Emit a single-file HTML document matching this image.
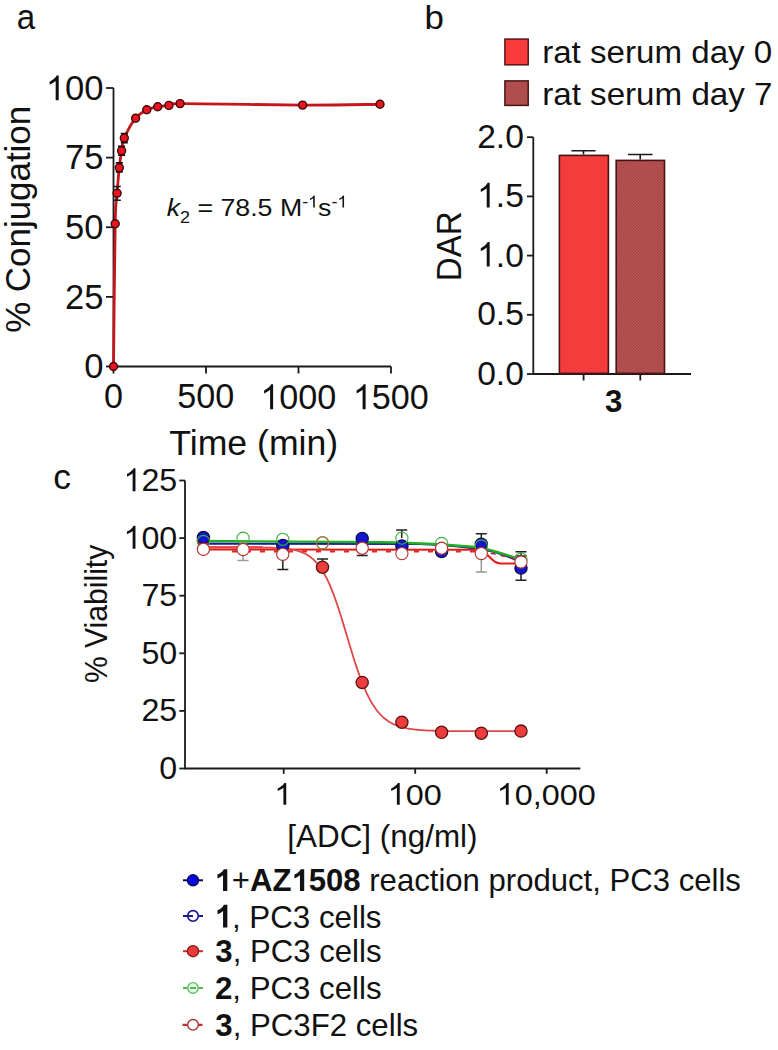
<!DOCTYPE html>
<html><head><meta charset="utf-8"><style>
html,body{margin:0;padding:0;background:#fff;}
svg{display:block;}
text{font-family:"Liberation Sans",sans-serif;}
tspan.one{fill-opacity:0;}
</style></head><body>
<svg width="778" height="1050" viewBox="0 0 778 1050">
<rect width="778" height="1050" fill="#fff"/>
<text transform="translate(16.76,28.87) scale(0.9218,0.9763)" font-size="36" fill="#111">a</text>
<text transform="translate(424.40,28.87) scale(1.0267,1.0000)" font-size="34" fill="#111">b</text>
<text transform="translate(53.36,489.37) scale(0.9848,0.9814)" font-size="36" fill="#111">c</text>
<text transform="translate(169.30,454.80) scale(1.0484,1.0257)" font-size="34" fill="#111">Time (min)</text>
<text transform="translate(29.60,332.87) scale(1.0176,1.0268) rotate(-90)" font-size="34" fill="#111">% Conjugation</text>
<text transform="translate(542.16,63.00) scale(1.0037,0.9583)" font-size="33" fill="#111">rat serum day 0</text>
<text transform="translate(542.15,104.50) scale(1.0052,0.9583)" font-size="33" fill="#111">rat serum day 7</text>
<text transform="translate(461.00,281.20) scale(1.0243,0.9757) rotate(-90)" font-size="34" fill="#111">DAR</text>
<text transform="translate(604.94,411.86) scale(0.9894,1.0075)" font-size="31.5" font-weight="bold" fill="#111">3</text>
<text transform="translate(287.27,847.00) scale(0.9977,1.0147)" font-size="31.5" fill="#111">[ADC] (ng/ml)</text>
<text transform="translate(107.40,683.06) scale(1.0029,0.9413) rotate(-90)" font-size="32" fill="#111">% Viability</text>
<text transform="translate(166.74,216.17) scale(1.0859,0.9951)" font-size="24.6" fill="#111"><tspan font-style="italic">k</tspan><tspan font-size="16.5" dy="6.5">2</tspan><tspan dy="-6.5"> = 78.5 M</tspan><tspan font-size="16.5" dy="-8.8">-<tspan class="one">1</tspan></tspan><tspan dy="8.8">s</tspan><tspan font-size="16.5" dy="-8.8">-<tspan class="one">1</tspan></tspan></text>
<text transform="translate(214.49,891.00) scale(1.0035,0.9851)" font-size="31" fill="#111"><tspan font-weight="bold"><tspan class="one">1</tspan></tspan>+<tspan font-weight="bold">AZ<tspan class="one">1</tspan>508</tspan> reaction product, PC3 cells</text>
<text transform="translate(214.47,927.50) scale(1.0103,1.0299)" font-size="31" fill="#111"><tspan font-weight="bold"><tspan class="one">1</tspan></tspan>, PC3 cells</text>
<text transform="translate(215.33,961.80) scale(1.0051,0.9985)" font-size="31" fill="#111"><tspan font-weight="bold">3</tspan>, PC3 cells</text>
<text transform="translate(214.99,998.50) scale(1.0071,1.0075)" font-size="31" fill="#111"><tspan font-weight="bold">2</tspan>, PC3 cells</text>
<text transform="translate(215.33,1035.50) scale(1.0067,0.9851)" font-size="31" fill="#111"><tspan font-weight="bold">3</tspan>, PC3F2 cells</text>
<path d="M113.5 88.00 V366.5 H391.00" fill="none" stroke="#1a1a1a" stroke-width="1.8"/>
<line x1="106" y1="366.50" x2="113.5" y2="366.50" stroke="#1a1a1a" stroke-width="1.8"/>
<line x1="106" y1="296.88" x2="113.5" y2="296.88" stroke="#1a1a1a" stroke-width="1.8"/>
<line x1="106" y1="227.25" x2="113.5" y2="227.25" stroke="#1a1a1a" stroke-width="1.8"/>
<line x1="106" y1="157.62" x2="113.5" y2="157.62" stroke="#1a1a1a" stroke-width="1.8"/>
<line x1="106" y1="88.00" x2="113.5" y2="88.00" stroke="#1a1a1a" stroke-width="1.8"/>
<line x1="113.50" y1="366.5" x2="113.50" y2="373.5" stroke="#1a1a1a" stroke-width="1.8"/>
<line x1="206.00" y1="366.5" x2="206.00" y2="373.5" stroke="#1a1a1a" stroke-width="1.8"/>
<line x1="298.50" y1="366.5" x2="298.50" y2="373.5" stroke="#1a1a1a" stroke-width="1.8"/>
<line x1="391.00" y1="366.5" x2="391.00" y2="373.5" stroke="#1a1a1a" stroke-width="1.8"/>
<text transform="translate(84.32,378.17) scale(1.0032,0.9947)" font-size="34.5" fill="#111">0</text>
<text transform="translate(65.07,308.55) scale(1.0032,0.9947)" font-size="34.5" fill="#111">25</text>
<text transform="translate(65.07,238.92) scale(1.0032,0.9947)" font-size="34.5" fill="#111">50</text>
<text transform="translate(65.07,169.13) scale(1.0032,0.9947)" font-size="34.5" fill="#111">75</text>
<text transform="translate(45.82,100.17) scale(1.0032,0.9947)" font-size="34.5" fill="#111"><tspan class="one">1</tspan>00</text>
<text transform="translate(103.88,408.16) scale(0.9907,1.0066)" font-size="34.5" fill="#111">0</text>
<text transform="translate(177.37,408.16) scale(0.9907,1.0066)" font-size="34.5" fill="#111">500</text>
<text transform="translate(260.37,409.16) scale(0.9907,1.0066)" font-size="34.5" fill="#111"><tspan class="one">1</tspan>000</text>
<text transform="translate(352.87,409.16) scale(0.9907,1.0066)" font-size="34.5" fill="#111"><tspan class="one">1</tspan>500</text>
<path d="M113.50 366.50 C113.78 342.72 114.60 252.67 115.20 223.80 C115.80 194.93 116.42 202.65 117.10 193.30 C117.78 183.95 118.55 174.80 119.30 167.70 C120.05 160.60 120.77 155.63 121.60 150.70 C122.43 145.77 121.97 143.52 124.30 138.10 C126.63 132.68 131.85 122.92 135.60 118.20 C139.35 113.48 143.12 111.72 146.80 109.80 C150.48 107.88 154.02 107.43 157.70 106.70 C161.38 105.97 165.17 105.92 168.90 105.40 C172.63 104.88 157.82 103.65 180.10 103.60 C202.38 103.55 269.28 104.98 302.60 105.10 C335.92 105.22 367.10 104.43 380.00 104.30" fill="none" stroke="#c4161c" stroke-width="2.8"/>
<path d="M117.1 186.5 V200.2 M113.4 186.5 H120.8 M113.4 200.2 H120.8" stroke="#1a1a1a" stroke-width="1.4"/>
<path d="M120.8 133.7 H127.8 M120.8 142.5 H127.8 M118.1 146.3 H125.1 M118.1 155.1 H125.1 M115.8 162.9 H122.8 M115.8 171.9 H122.8" stroke="#1a0808" stroke-width="1.8"/>
<circle cx="113.5" cy="366.5" r="4.0" fill="#ea1420" stroke="#3a0808" stroke-width="1.4"/>
<circle cx="115.2" cy="223.8" r="4.0" fill="#ea1420" stroke="#3a0808" stroke-width="1.4"/>
<circle cx="117.1" cy="193.3" r="4.0" fill="#ea1420" stroke="#3a0808" stroke-width="1.4"/>
<circle cx="119.3" cy="167.7" r="4.0" fill="#ea1420" stroke="#3a0808" stroke-width="1.4"/>
<circle cx="121.6" cy="150.7" r="4.0" fill="#ea1420" stroke="#3a0808" stroke-width="1.4"/>
<circle cx="124.3" cy="138.1" r="4.0" fill="#ea1420" stroke="#3a0808" stroke-width="1.4"/>
<circle cx="135.6" cy="118.2" r="4.0" fill="#ea1420" stroke="#3a0808" stroke-width="1.4"/>
<circle cx="146.8" cy="109.8" r="4.0" fill="#ea1420" stroke="#3a0808" stroke-width="1.4"/>
<circle cx="157.7" cy="106.7" r="4.0" fill="#ea1420" stroke="#3a0808" stroke-width="1.4"/>
<circle cx="168.9" cy="105.4" r="4.0" fill="#ea1420" stroke="#3a0808" stroke-width="1.4"/>
<circle cx="180.1" cy="103.6" r="4.0" fill="#ea1420" stroke="#3a0808" stroke-width="1.4"/>
<circle cx="302.6" cy="105.1" r="4.0" fill="#ea1420" stroke="#3a0808" stroke-width="1.4"/>
<circle cx="380" cy="104.3" r="4.0" fill="#ea1420" stroke="#3a0808" stroke-width="1.4"/>
<defs><pattern id="hatch" width="3" height="3" patternUnits="userSpaceOnUse"><rect width="3" height="3" fill="#bc5656"/><rect width="1.5" height="1.5" fill="#a44444"/><rect x="1.5" y="1.5" width="1.5" height="1.5" fill="#a44444"/></pattern></defs>
<rect x="504.9" y="39.1" width="23.3" height="25.7" fill="#f83a3a" stroke="#5a1414" stroke-width="1.5"/>
<rect x="504.9" y="80.9" width="23.3" height="24.5" fill="url(#hatch)" stroke="#4a1414" stroke-width="1.5"/>
<path d="M533.3 137.20 V374.0 H691" fill="none" stroke="#1a1a1a" stroke-width="1.8"/>
<line x1="527" y1="374.00" x2="533.3" y2="374.00" stroke="#1a1a1a" stroke-width="1.8"/>
<line x1="527" y1="314.80" x2="533.3" y2="314.80" stroke="#1a1a1a" stroke-width="1.8"/>
<line x1="527" y1="255.60" x2="533.3" y2="255.60" stroke="#1a1a1a" stroke-width="1.8"/>
<line x1="527" y1="196.40" x2="533.3" y2="196.40" stroke="#1a1a1a" stroke-width="1.8"/>
<line x1="527" y1="137.20" x2="533.3" y2="137.20" stroke="#1a1a1a" stroke-width="1.8"/>
<text transform="translate(477.15,384.67) scale(0.9880,1.0042)" font-size="34" fill="#111">0.0</text>
<text transform="translate(477.15,325.47) scale(0.9880,1.0042)" font-size="34" fill="#111">0.5</text>
<text transform="translate(477.15,266.60) scale(0.9880,1.0042)" font-size="34" fill="#111"><tspan class="one">1</tspan>.0</text>
<text transform="translate(477.15,207.40) scale(0.9880,1.0042)" font-size="34" fill="#111"><tspan class="one">1</tspan>.5</text>
<text transform="translate(477.15,147.87) scale(0.9880,1.0042)" font-size="34" fill="#111">2.0</text>
<line x1="583.6" y1="374.0" x2="583.6" y2="380.5" stroke="#1a1a1a" stroke-width="1.8"/>
<line x1="640.3" y1="374.0" x2="640.3" y2="380.5" stroke="#1a1a1a" stroke-width="1.8"/>
<rect x="559.4" y="155.4" width="49" height="218" fill="#f43c3c" stroke="#4a1212" stroke-width="1.6"/>
<rect x="616.2" y="160.4" width="48.3" height="213" fill="url(#hatch)" stroke="#4a1212" stroke-width="1.6"/>
<path d="M583.5 154.6 V150.8 M571.4 150.8 H595.6 M640.2 159.6 V154.5 M627.9 154.5 H652.5" stroke="#1a1a1a" stroke-width="1.6"/>
<path d="M185.0 480.50 V768.5 H580.3" fill="none" stroke="#1a1a1a" stroke-width="1.8"/>
<line x1="179.3" y1="768.50" x2="185.0" y2="768.50" stroke="#1a1a1a" stroke-width="1.8"/>
<line x1="179.3" y1="710.90" x2="185.0" y2="710.90" stroke="#1a1a1a" stroke-width="1.8"/>
<line x1="179.3" y1="653.30" x2="185.0" y2="653.30" stroke="#1a1a1a" stroke-width="1.8"/>
<line x1="179.3" y1="595.70" x2="185.0" y2="595.70" stroke="#1a1a1a" stroke-width="1.8"/>
<line x1="179.3" y1="538.10" x2="185.0" y2="538.10" stroke="#1a1a1a" stroke-width="1.8"/>
<line x1="179.3" y1="480.50" x2="185.0" y2="480.50" stroke="#1a1a1a" stroke-width="1.8"/>
<line x1="283.70" y1="768.5" x2="283.70" y2="773.8" stroke="#1a1a1a" stroke-width="1.8"/>
<line x1="415.20" y1="768.5" x2="415.20" y2="773.8" stroke="#1a1a1a" stroke-width="1.8"/>
<line x1="546.70" y1="768.5" x2="546.70" y2="773.8" stroke="#1a1a1a" stroke-width="1.8"/>
<text transform="translate(159.30,778.85) scale(0.9912,0.9803)" font-size="32.5" fill="#111">0</text>
<text transform="translate(141.38,721.25) scale(0.9912,0.9803)" font-size="32.5" fill="#111">25</text>
<text transform="translate(141.38,663.65) scale(0.9912,0.9803)" font-size="32.5" fill="#111">50</text>
<text transform="translate(141.38,605.88) scale(0.9912,0.9803)" font-size="32.5" fill="#111">75</text>
<text transform="translate(123.47,548.77) scale(0.9912,0.9803)" font-size="32.5" fill="#111"><tspan class="one">1</tspan>00</text>
<text transform="translate(123.47,491.17) scale(0.9912,0.9803)" font-size="32.5" fill="#111"><tspan class="one">1</tspan>25</text>
<text transform="translate(274.17,804.69) scale(0.9973,0.9296)" font-size="32.5" fill="#111"><tspan class="one">1</tspan></text>
<text transform="translate(387.64,804.69) scale(0.9973,0.9296)" font-size="32.5" fill="#111"><tspan class="one">1</tspan>00</text>
<text transform="translate(496.61,804.69) scale(0.9973,0.9296)" font-size="32.5" fill="#111"><tspan class="one">1</tspan>0,000</text>
<path d="M203.4 543.7 L420 544 C450 545 470 547 490 551 C500 553 510 557 521 562" fill="none" stroke="#1a1a9a" stroke-width="2.2"/>
<path d="M203.4 541.0 L380 542.2 C420 543 450 544.5 475 547 C490 549 505 554 521 560" fill="none" stroke="#22b022" stroke-width="2.4"/>
<path d="M203.4 547.3 L262 547.3" fill="none" stroke="#ff2a2a" stroke-width="2"/>
<path d="M203.4 549.6 L478 549.7 C488 550 490 563 500 563.4 L521 563.4" fill="none" stroke="#e01c1c" stroke-width="2"/>
<path d="M481 551 L521 560" fill="none" stroke="#b03030" stroke-width="1.6" stroke-dasharray="5 5"/>
<path d="M232 551.4 L480 551.4" fill="none" stroke="#e02828" stroke-width="2.2" stroke-dasharray="5 9"/>
<path d="M203.4 547.3 L260.0 547.46 L261.0 547.48 L262.0 547.49 L263.0 547.51 L264.0 547.53 L265.0 547.55 L266.0 547.57 L267.0 547.59 L268.0 547.62 L269.0 547.64 L270.0 547.67 L271.0 547.71 L272.0 547.74 L273.0 547.78 L274.0 547.82 L275.0 547.87 L276.0 547.91 L277.0 547.97 L278.0 548.02 L279.0 548.09 L280.0 548.15 L281.0 548.23 L282.0 548.31 L283.0 548.39 L284.0 548.49 L285.0 548.59 L286.0 548.70 L287.0 548.82 L288.0 548.95 L289.0 549.09 L290.0 549.24 L291.0 549.40 L292.0 549.58 L293.0 549.77 L294.0 549.98 L295.0 550.21 L296.0 550.45 L297.0 550.72 L298.0 551.00 L299.0 551.31 L300.0 551.64 L301.0 552.00 L302.0 552.39 L303.0 552.81 L304.0 553.26 L305.0 553.74 L306.0 554.27 L307.0 554.83 L308.0 555.43 L309.0 556.08 L310.0 556.78 L311.0 557.53 L312.0 558.33 L313.0 559.19 L314.0 560.11 L315.0 561.09 L316.0 562.14 L317.0 563.26 L318.0 564.45 L319.0 565.72 L320.0 567.07 L321.0 568.50 L322.0 570.02 L323.0 571.62 L324.0 573.32 L325.0 575.10 L326.0 576.99 L327.0 578.96 L328.0 581.04 L329.0 583.21 L330.0 585.48 L331.0 587.85 L332.0 590.31 L333.0 592.87 L334.0 595.52 L335.0 598.26 L336.0 601.09 L337.0 604.00 L338.0 606.98 L339.0 610.03 L340.0 613.15 L341.0 616.33 L342.0 619.56 L343.0 622.83 L344.0 626.13 L345.0 629.46 L346.0 632.81 L347.0 636.16 L348.0 639.52 L349.0 642.86 L350.0 646.19 L351.0 649.50 L352.0 652.77 L353.0 655.99 L354.0 659.17 L355.0 662.30 L356.0 665.36 L357.0 668.35 L358.0 671.28 L359.0 674.12 L360.0 676.89 L361.0 679.57 L362.0 682.17 L363.0 684.67 L364.0 687.09 L365.0 689.42 L366.0 691.65 L367.0 693.80 L368.0 695.86 L369.0 697.82 L370.0 699.70 L371.0 701.49 L372.0 703.20 L373.0 704.82 L374.0 706.37 L375.0 707.83 L376.0 709.22 L377.0 710.54 L378.0 711.79 L379.0 712.97 L380.0 714.08 L381.0 715.13 L382.0 716.13 L383.0 717.06 L384.0 717.95 L385.0 718.78 L386.0 719.56 L387.0 720.30 L388.0 720.99 L389.0 721.64 L390.0 722.25 L391.0 722.82 L392.0 723.36 L393.0 723.87 L394.0 724.34 L395.0 724.78 L396.0 725.20 L397.0 725.59 L398.0 725.95 L399.0 726.30 L400.0 726.62 L401.0 726.92 L402.0 727.20 L403.0 727.46 L404.0 727.71 L405.0 727.94 L406.0 728.15 L407.0 728.35 L408.0 728.54 L409.0 728.72 L410.0 728.88 L411.0 729.03 L412.0 729.18 L413.0 729.31 L414.0 729.44 L415.0 729.55 L416.0 729.66 L417.0 729.76 L418.0 729.86 L419.0 729.95 L420.0 730.03 L421.0 730.11 L422.0 730.18 L423.0 730.25 L424.0 730.31 L425.0 730.37 L426.0 730.43 L427.0 730.48 L428.0 730.53 L429.0 730.57 L430.0 730.61 L431.0 730.65 L432.0 730.69 L433.0 730.72 L434.0 730.76 L435.0 730.78 L436.0 730.81 L437.0 730.84 L438.0 730.86 L439.0 730.88 L440.0 730.91 L441.0 730.93 L442.0 730.94 L443.0 730.96 L444.0 730.98 L445.0 730.99 L446.0 731.01 L447.0 731.02 L448.0 731.03 L449.0 731.04 L450.0 731.05 L451.0 731.06 L452.0 731.07 L453.0 731.08 L454.0 731.09 L455.0 731.10 L456.0 731.10 L457.0 731.11 L458.0 731.12 L459.0 731.12 L460.0 731.13 L461.0 731.13 L462.0 731.14 L463.0 731.14 L464.0 731.14 L465.0 731.15 L466.0 731.15 L467.0 731.15 L468.0 731.16 L469.0 731.16 L470.0 731.16 L471.0 731.17 L472.0 731.17 L473.0 731.17 L474.0 731.17 L475.0 731.17 L476.0 731.18 L477.0 731.18 L478.0 731.18 L479.0 731.18 L480.0 731.18 L481.0 731.18 L482.0 731.18 L483.0 731.18 L484.0 731.19 L485.0 731.19 L486.0 731.19 L487.0 731.19 L488.0 731.19 L489.0 731.19 L490.0 731.19 L491.0 731.19 L492.0 731.19 L493.0 731.19 L494.0 731.19 L495.0 731.19 L496.0 731.19 L497.0 731.19 L498.0 731.19 L499.0 731.20 L500.0 731.20 L501.0 731.20 L502.0 731.20 L503.0 731.20 L504.0 731.20 L505.0 731.20 L506.0 731.20 L507.0 731.20 L508.0 731.20 L509.0 731.20 L510.0 731.20 L511.0 731.20 L512.0 731.20 L513.0 731.20 L514.0 731.20 L515.0 731.20 L516.0 731.20 L517.0 731.20 L518.0 731.20 L519.0 731.20 L520.0 731.20 L521.0 731.20" fill="none" stroke="#e04848" stroke-width="1.8"/>
<path d="M282.8 556 V569.4 M277.3 569.4 H288.3" stroke="#222" stroke-width="1.5"/>
<path d="M322.5 567 V559.1 M317.0 559.1 H328.0" stroke="#222" stroke-width="1.5"/>
<path d="M362.2 548 V555.4 M356.7 555.4 H367.7" stroke="#222" stroke-width="1.5"/>
<path d="M401.7 538 V530.1 M396.2 530.1 H407.2" stroke="#222" stroke-width="1.5"/>
<path d="M481.3 544 V533.8 M475.8 533.8 H486.8" stroke="#222" stroke-width="1.5"/>
<path d="M481.3 548 V572 M475.8 572 H486.8" stroke="#999" stroke-width="1.5"/>
<path d="M521 562 V551.7 M515.5 551.7 H526.5" stroke="#222" stroke-width="1.5"/>
<path d="M521 562 V555.9 M515.5 555.9 H526.5" stroke="#222" stroke-width="1.5"/>
<path d="M521 562 V580.2 M515.5 580.2 H526.5" stroke="#222" stroke-width="1.5"/>
<path d="M243.1 549 V560.5 M237.6 560.5 H248.6" stroke="#999" stroke-width="1.5"/>
<circle cx="203.4" cy="540.5" r="6.1" fill="#ec3c3c" stroke="#5a1212" stroke-width="1.3"/>
<circle cx="203.4" cy="537.5" r="6.1" fill="#1414d0" stroke="#0c0c50" stroke-width="1.3"/>
<circle cx="282.8" cy="545.5" r="6.1" fill="#1414d0" stroke="#0c0c50" stroke-width="1.3"/>
<circle cx="362.2" cy="538.5" r="6.1" fill="#1414d0" stroke="#0c0c50" stroke-width="1.3"/>
<circle cx="401.9" cy="545.9" r="6.1" fill="#1414d0" stroke="#0c0c50" stroke-width="1.3"/>
<circle cx="441.6" cy="551.5" r="6.1" fill="#1414d0" stroke="#0c0c50" stroke-width="1.3"/>
<circle cx="481.3" cy="544.2" r="6.1" fill="#1414d0" stroke="#0c0c50" stroke-width="1.3"/>
<circle cx="521.0" cy="568" r="6.1" fill="#1414d0" stroke="#0c0c50" stroke-width="1.3"/>
<circle cx="203.4" cy="541.5" r="6.1" fill="none" stroke="#40b040" stroke-width="1.1"/>
<circle cx="243.1" cy="538.2" r="6.1" fill="none" stroke="#40b040" stroke-width="1.1"/>
<circle cx="282.8" cy="539.3" r="6.1" fill="none" stroke="#40b040" stroke-width="1.1"/>
<circle cx="322.5" cy="542.8" r="6.1" fill="none" stroke="#40b040" stroke-width="1.1"/>
<circle cx="401.9" cy="538.1" r="6.1" fill="none" stroke="#40b040" stroke-width="1.1"/>
<circle cx="441.6" cy="543.5" r="6.1" fill="none" stroke="#40b040" stroke-width="1.1"/>
<circle cx="481.3" cy="546" r="6.1" fill="none" stroke="#40b040" stroke-width="1.1"/>
<circle cx="521.0" cy="559" r="6.1" fill="none" stroke="#40b040" stroke-width="1.1"/>
<circle cx="322.5" cy="567.2" r="6.1" fill="#ec3c3c" stroke="#5a1212" stroke-width="1.3"/>
<circle cx="362.2" cy="682.4" r="6.1" fill="#ec3c3c" stroke="#5a1212" stroke-width="1.3"/>
<circle cx="401.9" cy="722.2" r="6.1" fill="#ec3c3c" stroke="#5a1212" stroke-width="1.3"/>
<circle cx="441.6" cy="732.3" r="6.1" fill="#ec3c3c" stroke="#5a1212" stroke-width="1.3"/>
<circle cx="481.3" cy="733.2" r="6.1" fill="#ec3c3c" stroke="#5a1212" stroke-width="1.3"/>
<circle cx="521.0" cy="731.1" r="6.1" fill="#ec3c3c" stroke="#5a1212" stroke-width="1.3"/>
<circle cx="203.4" cy="549.3" r="6.1" fill="#ffffff" stroke="#b83030" stroke-width="1.1"/>
<circle cx="243.1" cy="549.5" r="6.1" fill="#ffffff" stroke="#b83030" stroke-width="1.1"/>
<circle cx="282.8" cy="554.3" r="6.1" fill="#ffffff" stroke="#b83030" stroke-width="1.1"/>
<circle cx="362.2" cy="548.2" r="6.1" fill="#ffffff" stroke="#b83030" stroke-width="1.1"/>
<circle cx="401.9" cy="553.6" r="6.1" fill="#ffffff" stroke="#b83030" stroke-width="1.1"/>
<circle cx="441.6" cy="548.2" r="6.1" fill="#ffffff" stroke="#b83030" stroke-width="1.1"/>
<circle cx="481.3" cy="553.5" r="6.1" fill="#ffffff" stroke="#b83030" stroke-width="1.1"/>
<circle cx="521.0" cy="562" r="6.1" fill="#ffffff" stroke="#b83030" stroke-width="1.1"/>
<circle cx="322.5" cy="542.8" r="6.1" fill="none" stroke="#b07840" stroke-width="1.3"/>
<path d="M183 880.3 H203" stroke="#0a0a60" stroke-width="2"/>
<circle cx="193" cy="880.3" r="5.6" fill="#0606e0" stroke="#0a0a40" stroke-width="1.2"/>
<path d="M183 915.9 H193 M198.5 915.9 H203" stroke="#1a1a8a" stroke-width="2"/>
<circle cx="193" cy="915.9" r="5.3" fill="none" stroke="#1a1a8a" stroke-width="1.6"/>
<path d="M183 951.2 H203" stroke="#c83030" stroke-width="2"/>
<circle cx="193" cy="951.2" r="5.6" fill="#e83a3a" stroke="#7a1a1a" stroke-width="1.2"/>
<circle cx="193" cy="987.9" r="5.3" fill="#e4f8e4" stroke="#60c060" stroke-width="1.4"/>
<path d="M183 987.9 H187 M190 987.9 H196 M199 987.9 H203" stroke="#50b850" stroke-width="2"/>
<path d="M182.5 1024.8 H188 M198 1024.8 H202.5" stroke="#c03030" stroke-width="2.2"/>
<circle cx="193" cy="1024.8" r="5.3" fill="#fff" stroke="#b03030" stroke-width="1.4"/>
<path transform="matrix(1.08590,0.00000,0.00000,0.99510,166.740,216.170) translate(130.177,-8.800) scale(0.008057,-0.008057)" d="M763 0 L583 0 L583 1147 Q518 1085 412 1023 Q306 961 222 930 L222 1104 Q373 1175 486 1276 Q599 1377 646 1472 L763 1472 Z" fill="#111"/>
<path transform="matrix(1.08590,0.00000,0.00000,0.99510,166.740,216.170) translate(157.152,-8.800) scale(0.008057,-0.008057)" d="M763 0 L583 0 L583 1147 Q518 1085 412 1023 Q306 961 222 930 L222 1104 Q373 1175 486 1276 Q599 1377 646 1472 L763 1472 Z" fill="#111"/>
<path transform="matrix(1.00350,0.00000,0.00000,0.98510,214.490,891.000) translate(0.000,0.000) scale(0.015137,-0.015137)" d="M843 0 L562 0 L562 1059 Q408 915 199 846 L199 1101 Q309 1137 437 1236 Q565 1335 613 1466 L843 1466 Z" fill="#111"/>
<path transform="matrix(1.00350,0.00000,0.00000,0.98510,214.490,891.000) translate(76.652,0.000) scale(0.015137,-0.015137)" d="M843 0 L562 0 L562 1059 Q408 915 199 846 L199 1101 Q309 1137 437 1236 Q565 1335 613 1466 L843 1466 Z" fill="#111"/>
<path transform="matrix(1.01030,0.00000,0.00000,1.02990,214.470,927.500) translate(0.000,0.000) scale(0.015137,-0.015137)" d="M843 0 L562 0 L562 1059 Q408 915 199 846 L199 1101 Q309 1137 437 1236 Q565 1335 613 1466 L843 1466 Z" fill="#111"/>
<path transform="matrix(1.00320,0.00000,0.00000,0.99470,45.820,100.170) translate(0.000,0.000) scale(0.016846,-0.016846)" d="M763 0 L583 0 L583 1147 Q518 1085 412 1023 Q306 961 222 930 L222 1104 Q373 1175 486 1276 Q599 1377 646 1472 L763 1472 Z" fill="#111"/>
<path transform="matrix(0.99070,0.00000,0.00000,1.00660,260.370,409.160) translate(0.000,0.000) scale(0.016846,-0.016846)" d="M763 0 L583 0 L583 1147 Q518 1085 412 1023 Q306 961 222 930 L222 1104 Q373 1175 486 1276 Q599 1377 646 1472 L763 1472 Z" fill="#111"/>
<path transform="matrix(0.99070,0.00000,0.00000,1.00660,352.870,409.160) translate(0.000,0.000) scale(0.016846,-0.016846)" d="M763 0 L583 0 L583 1147 Q518 1085 412 1023 Q306 961 222 930 L222 1104 Q373 1175 486 1276 Q599 1377 646 1472 L763 1472 Z" fill="#111"/>
<path transform="matrix(0.98800,0.00000,0.00000,1.00420,477.150,266.600) translate(0.000,0.000) scale(0.016602,-0.016602)" d="M763 0 L583 0 L583 1147 Q518 1085 412 1023 Q306 961 222 930 L222 1104 Q373 1175 486 1276 Q599 1377 646 1472 L763 1472 Z" fill="#111"/>
<path transform="matrix(0.98800,0.00000,0.00000,1.00420,477.150,207.400) translate(0.000,0.000) scale(0.016602,-0.016602)" d="M763 0 L583 0 L583 1147 Q518 1085 412 1023 Q306 961 222 930 L222 1104 Q373 1175 486 1276 Q599 1377 646 1472 L763 1472 Z" fill="#111"/>
<path transform="matrix(0.99120,0.00000,0.00000,0.98030,123.470,548.770) translate(0.000,0.000) scale(0.015869,-0.015869)" d="M763 0 L583 0 L583 1147 Q518 1085 412 1023 Q306 961 222 930 L222 1104 Q373 1175 486 1276 Q599 1377 646 1472 L763 1472 Z" fill="#111"/>
<path transform="matrix(0.99120,0.00000,0.00000,0.98030,123.470,491.170) translate(0.000,0.000) scale(0.015869,-0.015869)" d="M763 0 L583 0 L583 1147 Q518 1085 412 1023 Q306 961 222 930 L222 1104 Q373 1175 486 1276 Q599 1377 646 1472 L763 1472 Z" fill="#111"/>
<path transform="matrix(0.99730,0.00000,0.00000,0.92960,274.170,804.690) translate(0.000,0.000) scale(0.015869,-0.015869)" d="M763 0 L583 0 L583 1147 Q518 1085 412 1023 Q306 961 222 930 L222 1104 Q373 1175 486 1276 Q599 1377 646 1472 L763 1472 Z" fill="#111"/>
<path transform="matrix(0.99730,0.00000,0.00000,0.92960,387.640,804.690) translate(0.000,0.000) scale(0.015869,-0.015869)" d="M763 0 L583 0 L583 1147 Q518 1085 412 1023 Q306 961 222 930 L222 1104 Q373 1175 486 1276 Q599 1377 646 1472 L763 1472 Z" fill="#111"/>
<path transform="matrix(0.99730,0.00000,0.00000,0.92960,496.610,804.690) translate(0.000,0.000) scale(0.015869,-0.015869)" d="M763 0 L583 0 L583 1147 Q518 1085 412 1023 Q306 961 222 930 L222 1104 Q373 1175 486 1276 Q599 1377 646 1472 L763 1472 Z" fill="#111"/>
</svg>
</body></html>
